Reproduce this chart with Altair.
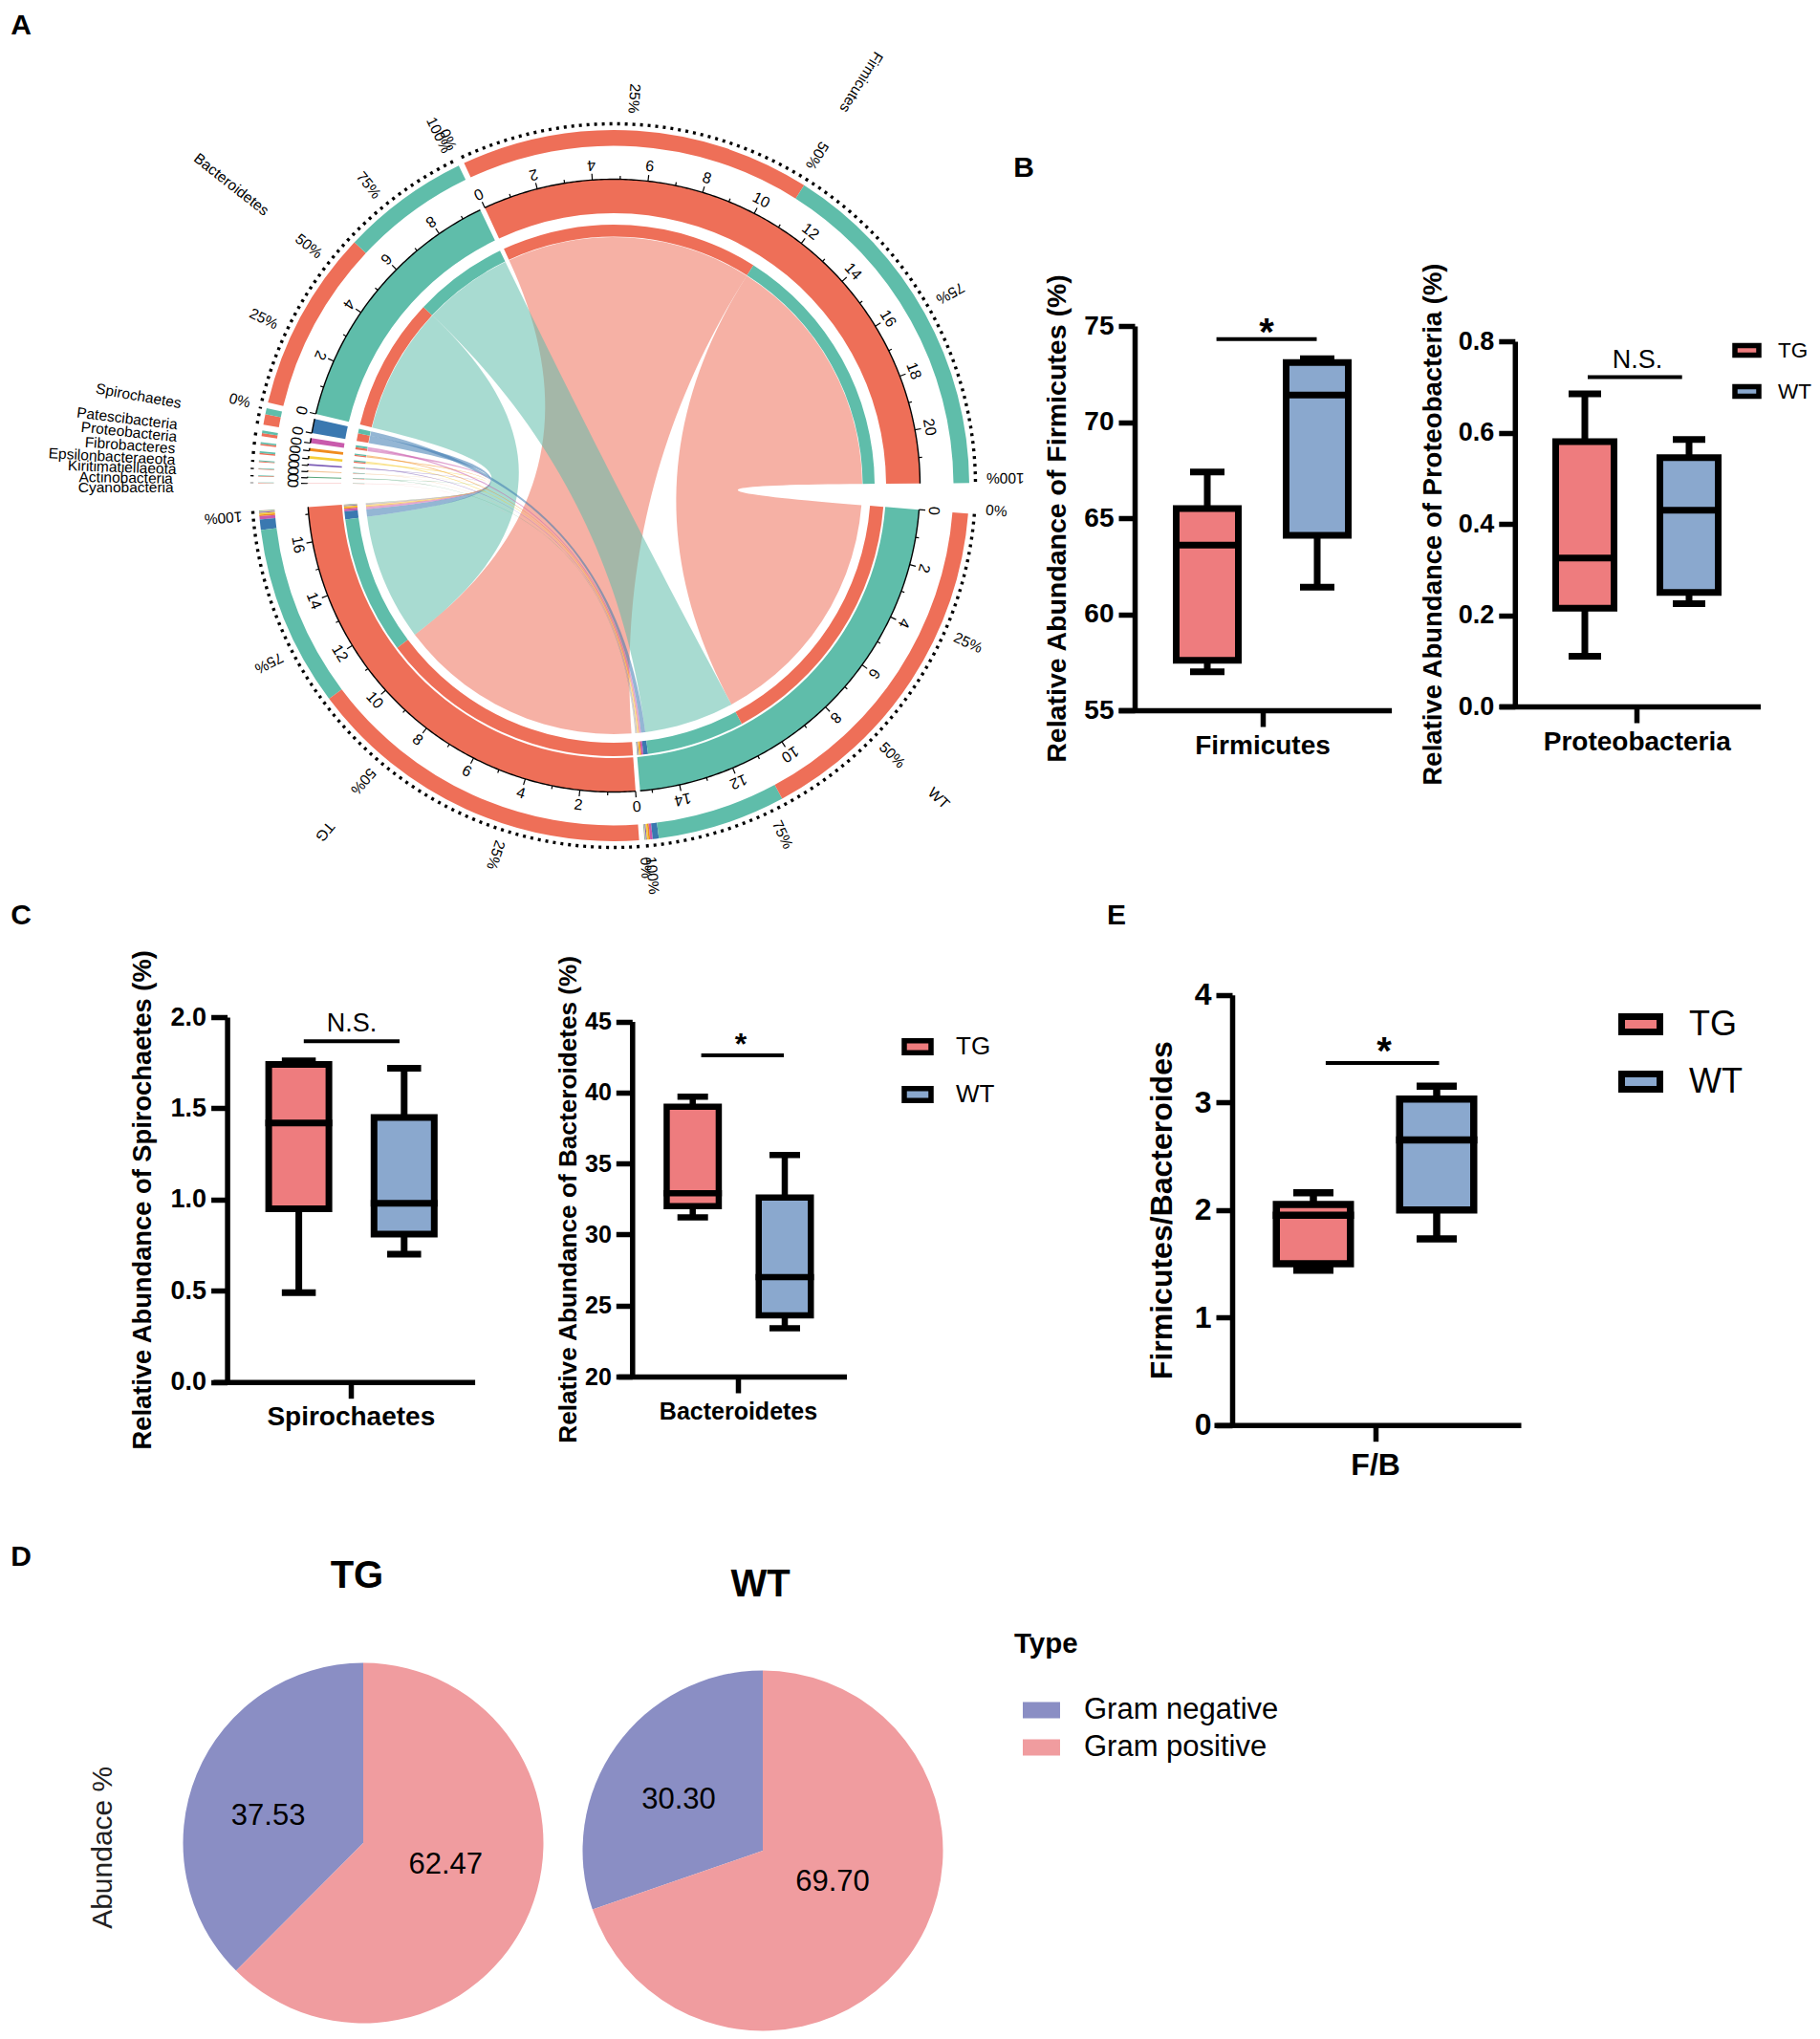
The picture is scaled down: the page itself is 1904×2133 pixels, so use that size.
import math
import altair as alt
import pandas as pd

W, H = 1888, 2117
FONT = "Liberation Sans"
RED, TEAL = "#EE6F58", "#5FBDAA"
TG_FILL, WT_FILL = "#EE7C7E", "#8AA8CE"

# ---------- chord diagram values (abundance per phylum and group) ----------
PHYLA = ["Cyanobacteria", "Actinobacteria", "Kiritimatiellaeota", "Epsilonbacteraeota", "Fibrobacteres",
         "Proteobacteria", "Patescibacteria", "Spirochaetes", "Bacteroidetes", "Firmicutes"]
TG_ABUND = [0.01, 0.02, 0.02, 0.03, 0.05, 0.05, 0.10, 0.33, 5.68, 10.97]
WT_ABUND = [0.01, 0.02, 0.02, 0.03, 0.05, 0.05, 0.08, 0.19, 4.02, 10.96]
PHYLUM_COLORS = ["#F5B5B5", "#5AA77A", "#F3C79B", "#7A5AB5", "#F5CF3A", "#F08C1E", "#C95BAC", "#3A78B0", TEAL, RED]

# ---------- box plot values: min, q1, median, q3, max ----------
FIRM_TG = [57.0, 57.6, 63.6, 65.5, 67.4]
FIRM_WT = [61.4, 64.1, 71.4, 73.1, 73.3]
PROT_TG = [0.11, 0.215, 0.325, 0.58, 0.685]
PROT_WT = [0.225, 0.25, 0.43, 0.545, 0.585]
SPIR_TG = [0.49, 0.95, 1.42, 1.74, 1.76]
SPIR_WT = [0.70, 0.81, 0.98, 1.45, 1.72]
BACT_TG = [31.2, 32.0, 32.9, 39.0, 39.7]
BACT_WT = [23.4, 24.3, 27.0, 32.6, 35.6]
FB_TG = [1.44, 1.50, 1.95, 2.05, 2.16]
FB_WT = [1.73, 2.00, 2.65, 3.03, 3.15]

# ---------- pie values ----------
PIE_TYPES = ["Gram negative", "Gram positive"]
PIE_TG = [37.53, 62.47]
PIE_WT = [30.30, 69.70]

# ---------- page-pixel scales for annotations ----------
PX = alt.Scale(domain=[8, 8 + W], range=[0, W])
PY = alt.Scale(domain=[8, 8 + H], range=[0, H])
layers = []


def text_layer(rows, size, weight="normal", align="center", baseline="middle", color="black"):
    """rows: (text, page x, page y, rotation)"""
    df = pd.DataFrame(rows, columns=["t", "x", "y", "r"])
    return alt.Chart(df).mark_text(font=FONT, fontSize=size, fontWeight=weight, align=align,
                                   baseline=baseline, color=color).encode(
        x=alt.X("x:Q", scale=PX, axis=None), y=alt.Y("y:Q", scale=PY, axis=None),
        text="t:N", angle=alt.Angle("r:Q", scale=None))


# ---------- chord layout ----------
CX, CY = 642.0, 508.0
DEG = 5.22
CHX = alt.Scale(domain=[-600, 600], range=[CX - 8 - 600, CX - 8 + 600])
CHY = alt.Scale(domain=[-600, 600], range=[CY - 8 - 600, CY - 8 + 600])


def pol(a, r):
    return r * math.cos(math.radians(a)), r * math.sin(math.radians(a))


sectors = {}
a = 4.5
sectors["WT"] = (a, a + sum(WT_ABUND) * DEG)
a = sectors["WT"][1] + 0.85
sectors["TG"] = (a, a + sum(TG_ABUND) * DEG)
a = 180.4
for i, p in enumerate(PHYLA):
    sectors[p] = (a, a + (TG_ABUND[i] + WT_ABUND[i]) * DEG)
    a = sectors[p][1] + 0.95

phy_part, grp_part = {}, {}
for i, p in enumerate(PHYLA):
    s = sectors[p][0]
    phy_part[p, "TG"] = (s, s + TG_ABUND[i] * DEG)
    phy_part[p, "WT"] = (s + TG_ABUND[i] * DEG, s + (TG_ABUND[i] + WT_ABUND[i]) * DEG)
for g, vals in (("TG", TG_ABUND), ("WT", WT_ABUND)):
    s = sectors[g][0]
    for j in range(len(PHYLA) - 1, -1, -1):
        grp_part[PHYLA[j], g] = (s, s + vals[j] * DEG)
        s += vals[j] * DEG

# ribbons
RIB_R = 260.0
rib = []


def add_ribbon(pid, color, p0, p1, q0, q1):
    pts = []
    n = 14
    for k in range(n + 1):
        pts.append(pol(p0 + (p1 - p0) * k / n, RIB_R))
    ax, ay = pol(p1, RIB_R)
    bx, by = pol(q0, RIB_R)
    for k in range(1, 40):
        t = k / 40
        pts.append(((1 - t) ** 2 * ax + t ** 2 * bx, (1 - t) ** 2 * ay + t ** 2 * by))
    for k in range(n + 1):
        pts.append(pol(q0 + (q1 - q0) * k / n, RIB_R))
    ax, ay = pol(q1, RIB_R)
    bx, by = pol(p0, RIB_R)
    for k in range(1, 40):
        t = k / 40
        pts.append(((1 - t) ** 2 * ax + t ** 2 * bx, (1 - t) ** 2 * ay + t ** 2 * by))
    pts.append(pol(p0, RIB_R))
    for i, (x, y) in enumerate(pts):
        rib.append({"id": pid, "c": color, "x": x, "y": y, "i": i})


rid = 0
for j in range(len(PHYLA) - 1, -1, -1):
    p = PHYLA[j]
    for g in ("TG", "WT"):
        rid += 1
        add_ribbon(f"r{rid:02d}", PHYLUM_COLORS[j], *phy_part[p, g], *grp_part[p, g])

layers.append(alt.Chart(pd.DataFrame(rib)).mark_line(filled=True, opacity=0.54, strokeWidth=0).encode(
    x=alt.X("x:Q", scale=CHX, axis=None), y=alt.Y("y:Q", scale=CHY, axis=None),
    detail="id:N", color=alt.Color("c:N", scale=None), order=alt.Order("i:Q")))

# rings
arcs = []


def add_arc(a0, a1, r0, r1, c):
    arcs.append({"t0": math.radians(a0 + 90), "t1": math.radians(a1 + 90), "r0": r0, "r1": r1, "c": c})


for g, col in (("TG", RED), ("WT", TEAL)):
    add_arc(*sectors[g], 285, 320.5, col)
for j, p in enumerate(PHYLA):
    add_arc(*sectors[p], 285, 320.5, PHYLUM_COLORS[j])
    for g, col in (("TG", RED), ("WT", TEAL)):
        add_arc(*phy_part[p, g], 260.5, 273, col)
        add_arc(*phy_part[p, g], 355.5, 372, col)
    for g in ("TG", "WT"):
        add_arc(*grp_part[p, g], 269, 283, PHYLUM_COLORS[j])
        add_arc(*grp_part[p, g], 355.5, 372, PHYLUM_COLORS[j])
layers.append(alt.Chart(pd.DataFrame(arcs)).mark_arc().encode(
    x=alt.X(datum=0, scale=CHX, axis=None), y=alt.Y(datum=0, scale=CHY, axis=None),
    theta=alt.Theta("t0:Q", scale=None), theta2=alt.Theta2("t1:Q"),
    radius=alt.Radius("r1:Q", scale=None), radius2=alt.Radius2("r0:Q"),
    color=alt.Color("c:N", scale=None)))

# black track line and dotted percentage track
track, dots = [], []
for name, (a0, a1) in sectors.items():
    n = max(2, int((a1 - a0) / 0.5))
    for k in range(n + 1):
        aa = a0 + (a1 - a0) * k / n
        x, y = pol(aa, 320.5)
        track.append({"id": name, "x": x, "y": y, "i": k})
        x, y = pol(aa, 378.5)
        dots.append({"id": name, "x": x, "y": y, "i": k})
layers.append(alt.Chart(pd.DataFrame(track)).mark_line(color="black", strokeWidth=1.4).encode(
    x=alt.X("x:Q", scale=CHX, axis=None), y=alt.Y("y:Q", scale=CHY, axis=None),
    detail="id:N", order=alt.Order("i:Q")))
layers.append(alt.Chart(pd.DataFrame(dots)).mark_line(color="black", strokeWidth=3.4, strokeDash=[3, 5]).encode(
    x=alt.X("x:Q", scale=CHX, axis=None), y=alt.Y("y:Q", scale=CHY, axis=None),
    detail="id:N", order=alt.Order("i:Q")))

# ticks and tick labels
ticks, tlabels = [], []
for name, (a0, a1) in sectors.items():
    top = int((a1 - a0) / DEG + 1e-6)
    big = name in ("TG", "WT", "Firmicutes", "Bacteroidetes")
    for v in range(0, top + 1 if big else 1):
        aa = a0 + v * DEG
        L = 6.5 if v % 2 == 0 else 3.5
        x, y = pol(aa, 320.5)
        x2, y2 = pol(aa, 320.5 + L)
        ticks.append({"x": x, "y": y, "x2": x2, "y2": y2})
        if v % 2 == 0:
            x, y = pol(aa, 336)
            rot = aa - 90 if 90 < aa < 270 else aa + 90
            tlabels.append({"t": str(v), "x": x, "y": y, "r": rot % 360})
layers.append(alt.Chart(pd.DataFrame(ticks)).mark_rule(color="black", strokeWidth=1.2).encode(
    x=alt.X("x:Q", scale=CHX, axis=None), y=alt.Y("y:Q", scale=CHY, axis=None),
    x2="x2:Q", y2="y2:Q"))


def chord_text(rows, size, align="center", dy=0):
    return alt.Chart(pd.DataFrame(rows)).mark_text(font=FONT, fontSize=size, align=align, baseline="middle",
                                                   color="black", dy=dy).encode(
        x=alt.X("x:Q", scale=CHX, axis=None), y=alt.Y("y:Q", scale=CHY, axis=None),
        text="t:N", angle=alt.Angle("r:Q", scale=None))


layers.append(chord_text(tlabels, 16))

PCT = [0, 25, 50, 75, 100]
left_pct, right_pct = [], []
for name in ("WT", "TG"):
    a0, a1 = sectors[name]
    for q in PCT:
        aa = a0 + (a1 - a0) * q / 100
        x, y = pol(aa, 390)
        left_pct.append({"t": f"{q}%", "x": x, "y": y, "r": aa})
for name in ("Bacteroidetes", "Firmicutes"):
    a0, a1 = sectors[name]
    for q in PCT:
        aa = a0 + (a1 - a0) * q / 100
        x, y = pol(aa, 390)
        right_pct.append({"t": f"{q}%", "x": x, "y": y, "r": aa - 180})
layers.append(chord_text(left_pct, 15.5, "left", dy=-5))
layers.append(chord_text(right_pct, 15.5, "right", dy=5))

layers.append(text_layer([
    ("Firmicutes", 901, 86, 121.5), ("Bacteroidetes", 242, 193, 38.2),
    ("TG", 340, 870, 130), ("WT", 982, 835, 44),
    ("Spirochaetes", 145, 414.3, 10), ("Patescibacteria", 133, 438, 7), ("Proteobacteria", 135, 452, 6),
    ("Fibrobacteres", 136, 466, 4), ("Epsilonbacteraeota", 117, 477.7, 3), ("Kiritimatiellaeota", 127.7, 489, 2),
    ("Actinobacteria", 131.7, 500, 1), ("Cyanobacteria", 131.7, 510, 0)], 15.5))


# ---------- box plots ----------
def box_panel(name, title, tg, wt, dom, yb, yt, cx_tg, cx_wt, outer, cap, stroke, ticks_v, fmt,
              x0, x1, xt, xax, tick_font, title_font, xlab_font, tpad, lpad, legend=None):
    df = pd.DataFrame([["TG"] + tg, ["WT"] + wt], columns=["g", "lo", "q1", "med", "q3", "hi"])
    xs = alt.Scale(type="point", domain=["TG", "WT"], range=[cx_tg - 8, cx_wt - 8], padding=0)
    ys = alt.Scale(domain=dom, range=[yb - 8, yt - 8])
    X = alt.X("g:N", scale=xs, axis=None)
    Y = lambda f: alt.Y(f"{f}:Q", scale=ys, axis=None)
    out = []
    out.append(alt.Chart(df).mark_rule(color="black", strokeWidth=stroke).encode(x=X, y=Y("lo"), y2="hi:Q"))
    leg = None
    if legend:
        leg = alt.Legend(title=None, orient="none", legendX=legend["x"] - 8, legendY=legend["y"] - 8,
                         symbolType=f"M-1,-{legend['ratio']}H1V{legend['ratio']}H-1Z", symbolSize=legend["size"],
                         symbolStrokeColor="black", symbolStrokeWidth=legend["sw"], symbolOpacity=1,
                         labelFont=FONT, labelFontSize=legend["font"], labelColor="black", labelLimit=400,
                         labelOffset=legend["off"], rowPadding=legend["row"], padding=0)
    out.append(alt.Chart(df).mark_bar(width=outer - stroke, stroke="black", strokeWidth=stroke, opacity=1).encode(
        x=X, y=Y("q1"), y2="q3:Q",
        color=alt.Color("g:N", scale=alt.Scale(domain=["TG", "WT"], range=[TG_FILL, WT_FILL]),
                        legend=leg if leg else None)))
    out.append(alt.Chart(df).mark_tick(size=outer, thickness=stroke, color="black", opacity=1,
                                       orient="horizontal").encode(x=X, y=Y("med")))
    for f in ("lo", "hi"):
        out.append(alt.Chart(df).mark_tick(size=cap, thickness=stroke, color="black", opacity=1,
                                           orient="horizontal").encode(x=X, y=Y(f)))
    ax = pd.DataFrame({"u": [0.5], "v": [dom[0]]})
    axis_style = dict(domainColor="black", tickColor="black", labelColor="black", titleColor="black",
                      labelFont=FONT, titleFont=FONT, labelFontWeight="bold", titleFontWeight="bold",
                      domainWidth=5.5, tickWidth=5.5, tickSize=17, grid=False, labelOverlap=False, labelFlush=False,
                      labelLimit=500, titleLimit=900)
    out.append(alt.Chart(ax).mark_point(opacity=0).encode(
        x=alt.X("u:Q", scale=alt.Scale(domain=[0, 1], range=[x0 - 8, x1 - 8]),
                axis=alt.Axis(values=[(xt - x0) / (x1 - x0)], labelExpr=f"'{name}'", title=None,
                              orient="bottom", offset=-(H - (yb - 8)), labelFontSize=xlab_font,
                              labelPadding=lpad, **axis_style)),
        y=alt.Y("v:Q", scale=ys,
                axis=alt.Axis(values=ticks_v, format=fmt, title=title, orient="left", offset=-(xax - 8),
                              labelFontSize=tick_font, titleFontSize=title_font, labelPadding=5,
                              titlePadding=tpad, **axis_style))))
    return out


layers += box_panel("Firmicutes", "Relative Abundance of Firmicutes (%)", FIRM_TG, FIRM_WT, [55, 75], 743, 341,
                    1263, 1378, 72, 36, 7, [55, 60, 65, 70, 75], "d", 1170, 1455.6, 1320.5, 1187, 28, 28.5, 28, 13, 6)
layers += box_panel("Proteobacteria", "Relative Abundance of Proteobacteria (%)", PROT_TG, PROT_WT, [0, 0.8], 739, 357,
                    1658, 1767, 68, 34, 7, [0, 0.2, 0.4, 0.6, 0.8], ".1f", 1568.6, 1841.5, 1712.3, 1584.8, 27, 27.5, 28, 12, 6,
                    legend=dict(x=1812, y=351, ratio=0.4, size=625, sw=5.5, font=22.5, off=17, row=10))
layers += box_panel("Spirochaetes", "Relative Abundance of Spirochaetes (%)", SPIR_TG, SPIR_WT, [0, 2], 1445.7, 1064,
                    312.6, 422.8, 70, 35.5, 7, [0, 0.5, 1, 1.5, 2], ".1f", 222.9, 496.6, 366.8, 237.6, 27, 27.3, 28, 15, 6)
layers += box_panel("Bacteroidetes", "Relative Abundance of Bacteroidetes (%)", BACT_TG, BACT_WT, [20, 45], 1440, 1068.6,
                    724.7, 821, 61, 32, 6.5, [20, 25, 30, 35, 40, 45], "d", 646.6, 885.5, 772, 661.3, 25, 26.2, 25, 3, 7,
                    legend=dict(x=943, y=1078, ratio=0.45, size=784, sw=5.5, font=26, off=23, row=14))
layers += box_panel("F/B", "Firmicutes/Bacteroides", FB_TG, FB_WT, [0, 4], 1490.7, 1040.7,
                    1374, 1503, 85, 42, 7.5, [0, 1, 2, 3, 4], "d", 1270, 1591, 1438.6, 1289, 32, 32, 32, 17, 10,
                    legend=dict(x=1693, y=1048, ratio=0.4, size=1600, sw=7, font=36, off=27, row=14))

# significance bars
sig = pd.DataFrame([(1272.6, 1377.5, 354.8), (1661, 1759.7, 394.4), (317.8, 418, 1089.3),
                    (733.6, 820, 1104), (1386.9, 1505.5, 1112)], columns=["x", "x2", "y"])
layers.append(alt.Chart(sig).mark_rule(color="black", strokeWidth=4).encode(
    x=alt.X("x:Q", scale=PX, axis=None), x2="x2:Q", y=alt.Y("y:Q", scale=PY, axis=None)))
layers.append(text_layer([("N.S.", 1713, 377.4, 0), ("N.S.", 368, 1071, 0)], 27))
layers.append(text_layer([("*", 1325, 338 + 23, 0), ("*", 1448, 1090 + 23, 0)], 40, "bold", baseline="alphabetic"))
layers.append(text_layer([("*", 775, 1085 + 18, 0)], 32, "bold", baseline="alphabetic"))

# panel letters
layers.append(text_layer([("A", 22, 27, 0), ("B", 1071, 176, 0), ("C", 22, 958, 0), ("E", 1168, 958, 0),
                          ("D", 22, 1629, 0)], 30, "bold"))

# ---------- pies ----------
PIE_R = 188.5


def pie(vals, cx, cy, legend=False):
    df = pd.DataFrame({"type": PIE_TYPES, "v": vals, "ord": [1, 0]})
    leg = None
    if legend:
        leg = alt.Legend(title="Type", orient="none", legendX=1061 - 8, legendY=1706 - 8, titleFont=FONT,
                         titleFontSize=29.5, titleFontWeight="bold", titleColor="black", titlePadding=34,
                         symbolType="M-1,-0.44H1V0.44H-1Z", symbolSize=1521, symbolOffset=9, symbolStrokeWidth=0,
                         labelFont=FONT, labelFontSize=31, labelColor="black", labelOffset=25, rowPadding=4,
                         labelLimit=500, padding=0)
    return alt.Chart(df).mark_arc(outerRadius=PIE_R).encode(
        x=alt.X(datum=0, scale=alt.Scale(domain=[-1, 1], range=[cx - 8 - 1, cx - 8 + 1]), axis=None),
        y=alt.Y(datum=0, scale=alt.Scale(domain=[-1, 1], range=[cy - 8 - 1, cy - 8 + 1]), axis=None),
        theta=alt.Theta("v:Q", stack=True),
        color=alt.Color("type:N", scale=alt.Scale(domain=PIE_TYPES, range=["#8A8EC4", "#F09C9F"]),
                        legend=leg if leg else None),
        order=alt.Order("ord:Q"))


layers.append(pie(PIE_TG, 380, 1928))
layers.append(pie(PIE_WT, 798, 1936, legend=True))
layers.append(text_layer([("37.53", 280.6, 1900, 0), ("62.47", 466.3, 1950.5, 0),
                          ("30.30", 710, 1883, 0), ("69.70", 871, 1968.5, 0)], 31))
layers.append(text_layer([("TG", 373.4, 1649, 0), ("WT", 795.5, 1658, 0)], 40, "bold"))
layers.append(text_layer([("Abundace %", 108, 1932.8, 270)], 30, color="#222222"))

chart = alt.layer(*layers).resolve_scale(x="independent", y="independent", color="independent",
                                         theta="independent", radius="independent").properties(
    width=W, height=H, padding=0, autosize=alt.AutoSizeParams(type="none")
).configure_view(stroke=None)

chart.save("out.html", embed_options={"renderer": "svg", "actions": False})
